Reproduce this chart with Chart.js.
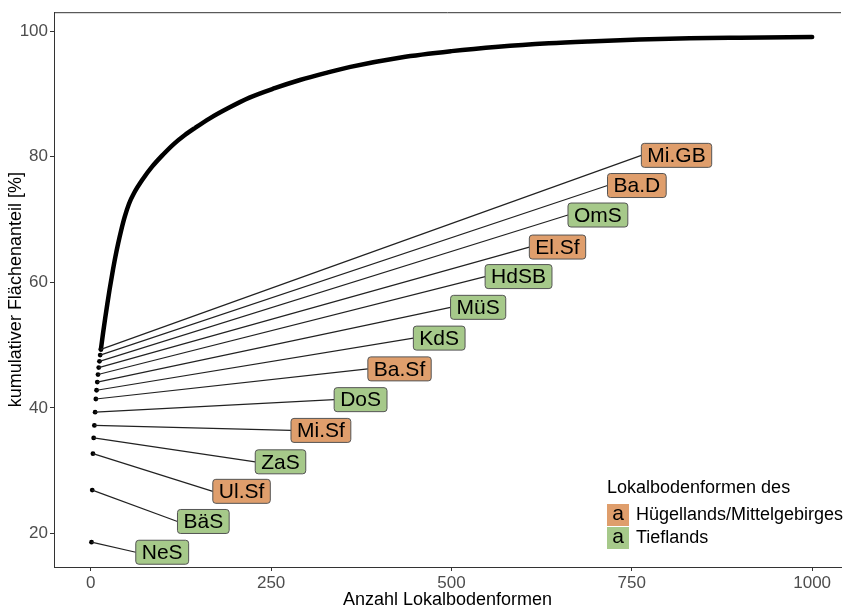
<!DOCTYPE html>
<html>
<head>
<meta charset="utf-8">
<script src="https://cdn.jsdelivr.net/npm/chart.js@4.4.0/dist/chart.umd.min.js"></script>
<style>
  html, body { margin: 0; padding: 0; background: #fff; }
  canvas { display: block; }
</style>
</head>
<body>
<canvas id="chart" width="845" height="611"></canvas>
<script>
// Die ersten 14 Lokalbodenformen (einzelne Punkte mit Beschriftung)
const counts = [1, 2, 3, 4, 5, 6, 7, 8, 9, 10, 11, 12, 13, 14];
const shares = [18.6, 26.9, 32.7, 35.2, 37.2, 39.3, 41.4, 42.8, 44.1, 45.3, 46.4, 47.4, 48.4, 49.3];
const names = ['NeS', 'BäS', 'Ul.Sf', 'ZaS', 'Mi.Sf', 'DoS', 'Ba.Sf', 'KdS', 'MüS', 'HdSB', 'El.Sf', 'OmS', 'Ba.D', 'Mi.GB'];
const groups = ['T', 'T', 'H', 'T', 'H', 'T', 'H', 'T', 'T', 'T', 'H', 'T', 'H', 'H'];
// Position der Beschriftung (in Datenkoordinaten)
const labelX = [99, 156, 209, 263, 319, 374, 428, 483, 537, 593, 647, 703, 757, 812];
const labelY = [17.0, 21.9, 26.7, 31.4, 36.4, 41.3, 46.2, 51.1, 56.0, 60.9, 65.6, 70.7, 75.4, 80.2];

// weiterer Verlauf der Summenkurve
const curveX = [14, 17, 20, 23, 26, 30, 34, 38, 42, 47, 53, 60, 72, 85, 100, 115, 130, 145, 165, 190, 220, 255, 290, 325, 360, 430, 500, 565, 635, 690, 760, 830, 900, 1000];
const curveY = [49.3, 51.9, 54.3, 56.6, 58.8, 61.5, 64.0, 66.2, 68.2, 70.4, 72.5, 74.2, 76.4, 78.4, 80.3, 82.0, 83.4, 84.6, 86.1, 87.7, 89.4, 90.9, 92.2, 93.3, 94.3, 95.8, 96.8, 97.5, 98.05, 98.35, 98.65, 98.85, 98.95, 99.05];

const xTicks = [0, 250, 500, 750, 1000];
const yTicks = [20, 40, 60, 80, 100];

const FONT = '"Liberation Sans", Arial, Helvetica, sans-serif';
const groupColors = { H: '#df9e6c', T: '#a6c98a' };
const legendItems = [
    { key: 'H', text: 'Hügellands/Mittelgebirges' },
    { key: 'T', text: 'Tieflands' }
];

// Beschriftungen mit Verbindungslinien
const labelPlugin = {
    id: 'labels',
    afterDatasetsDraw(chart) {
        const ctx = chart.ctx;
        const xs = chart.scales.x, ys = chart.scales.y;
        ctx.save();
        ctx.font = '21px ' + FONT;
        names.forEach((name, i) => {
            const px = xs.getPixelForValue(counts[i]);
            const py = ys.getPixelForValue(shares[i]);
            const lx = xs.getPixelForValue(labelX[i]);
            const ly = ys.getPixelForValue(labelY[i]);
            const w = ctx.measureText(name).width + 12;
            const h = 24;
            const left = lx - w / 2;

            ctx.strokeStyle = '#222';
            ctx.lineWidth = 1.2;
            ctx.beginPath();
            ctx.moveTo(px, py);
            ctx.lineTo(left, ly);
            ctx.stroke();

            ctx.beginPath();
            ctx.roundRect(left, ly - h / 2, w, h, 3);
            ctx.fillStyle = groupColors[groups[i]];
            ctx.fill();
            ctx.strokeStyle = '#555';
            ctx.lineWidth = 1;
            ctx.stroke();

            ctx.fillStyle = '#000';
            ctx.textAlign = 'center';
            ctx.textBaseline = 'middle';
            ctx.fillText(name, lx, ly + 1);
        });
        ctx.restore();
    }
};

// Legende im Stil von ggplot
const legendPlugin = {
    id: 'ggLegend',
    afterDraw(chart) {
        const ctx = chart.ctx;
        ctx.save();
        ctx.textBaseline = 'middle';
        ctx.textAlign = 'left';
        ctx.fillStyle = '#000';
        ctx.font = '18px ' + FONT;
        ctx.fillText('Lokalbodenformen des', 607, 488);
        legendItems.forEach((item, i) => {
            const y = 504 + i * 23;
            ctx.fillStyle = groupColors[item.key];
            ctx.fillRect(607, y, 22, 22);
            ctx.fillStyle = '#000';
            ctx.textAlign = 'center';
            ctx.font = '21px ' + FONT;
            ctx.fillText('a', 618, y + 10);
            ctx.textAlign = 'left';
            ctx.font = '18px ' + FONT;
            ctx.fillText(item.text, 636, y + 11);
        });
        ctx.restore();
    }
};

// obere Rahmenlinie
const borderPlugin = {
    id: 'panelBorder',
    beforeDatasetsDraw(chart) {
        const { ctx, chartArea } = chart;
        ctx.save();
        ctx.strokeStyle = '#333';
        ctx.lineWidth = 1;
        ctx.beginPath();
        ctx.moveTo(chartArea.left, chartArea.top + 0.5);
        ctx.lineTo(chartArea.right, chartArea.top + 0.5);
        ctx.stroke();
        ctx.restore();
    }
};

new Chart(document.getElementById('chart'), {
    type: 'scatter',
    data: {
        datasets: [
            {
                data: curveX.map((x, i) => ({ x: x, y: curveY[i] })),
                showLine: true,
                borderColor: '#000',
                borderWidth: 4.5,
                borderCapStyle: 'round',
                cubicInterpolationMode: 'monotone',
                pointRadius: 0
            },
            {
                data: counts.map((x, i) => ({ x: x, y: shares[i] })),
                backgroundColor: '#000',
                borderWidth: 0,
                pointRadius: 2.4
            }
        ]
    },
    options: {
        responsive: false,
        animation: false,
        layout: { padding: { top: 10, right: 0, left: 0, bottom: 0 } },
        plugins: { legend: { display: false }, tooltip: { enabled: false } },
        scales: {
            x: {
                min: -51,
                max: 1040,
                afterBuildTicks: s => { s.ticks = xTicks.map(v => ({ value: v })); },
                afterFit: s => { s.height = 44; },
                grid: { drawOnChartArea: false, tickLength: 4, tickColor: '#333' },
                border: { color: '#333', width: 1 },
                ticks: { color: '#4d4d4d', font: { family: FONT, size: 17 }, padding: 2, maxRotation: 0, callback: v => String(v) },
                title: { display: true, text: 'Anzahl Lokalbodenformen', color: '#000', font: { family: FONT, size: 18 }, padding: 0 }
            },
            y: {
                min: 14.65,
                max: 103,
                afterBuildTicks: s => { s.ticks = yTicks.map(v => ({ value: v })); },
                afterFit: s => { s.width = 54; },
                grid: { drawOnChartArea: false, tickLength: 4, tickColor: '#333' },
                border: { color: '#333', width: 1 },
                ticks: { color: '#4d4d4d', font: { family: FONT, size: 17 }, padding: 2, callback: v => String(v) },
                title: { display: true, text: 'kumulativer Flächenanteil [%]', color: '#000', font: { family: FONT, size: 18 }, padding: { top: 5, bottom: 0 } }
            }
        }
    },
    plugins: [borderPlugin, labelPlugin, legendPlugin]
});
</script>
</body>
</html>
